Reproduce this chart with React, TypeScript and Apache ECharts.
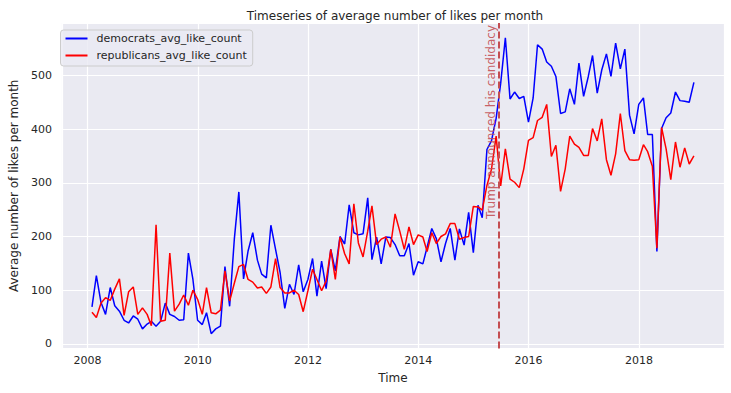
import React, { useEffect, useRef } from "react";
import * as echarts from "echarts";

const startYear = 2008;
const demLikes = [
  69, 127, 77, 55, 105, 71, 61, 44, 39, 52, 46, 28,
  37, 42, 33, 42, 76, 55, 51, 44, 45, 169, 120, 44,
  36, 58, 19, 28, 33, 144, 70, 195, 283, 121, 173, 207,
  156, 130, 123, 221, 176, 133, 66, 111, 92, 147, 97, 120,
  159, 89, 154, 103, 176, 136, 200, 186, 259, 207, 203, 205,
  272, 157, 199, 149, 199, 198, 185, 164, 164, 187, 128, 153,
  149, 180, 215, 196, 153, 187, 215, 156, 214, 184, 245, 170,
  258, 235, 362, 378, 420, 485, 570, 456, 469, 457, 461, 413,
  458, 557, 549, 525, 517, 498, 429, 432, 475, 446, 523, 461,
  498, 537, 467, 510, 540, 498, 560, 512, 549, 426, 391, 446,
  458, 390, 390, 172, 401, 421, 430, 469, 453, 452, 450, 487,
];
const repLikes = [
  59, 49, 76, 86, 81, 102, 121, 53, 97, 106, 55, 67,
  55, 34, 222, 42, 44, 169, 61, 74, 91, 72, 100, 83,
  55, 105, 58, 56, 63, 136, 80, 113, 144, 148, 120, 115,
  104, 106, 94, 106, 159, 105, 95, 95, 100, 92, 60, 99,
  139, 120, 99, 117, 176, 120, 199, 168, 149, 261, 188, 162,
  210, 257, 185, 195, 199, 180, 242, 210, 176, 218, 185, 203,
  199, 172, 207, 187, 200, 205, 224, 224, 195, 198, 200, 256,
  255, 249, 295, 325, 387, 294, 363, 307, 301, 291, 326, 379,
  384, 416, 422, 446, 349, 370, 284, 326, 387, 372, 366, 351,
  351, 401, 378, 419, 343, 314, 354, 429, 360, 343, 342, 343,
  371, 358, 331, 178, 403, 363, 306, 376, 329, 365, 335, 350,
];
const seriesNames = ["democrats_avg_like_count", "republicans_avg_like_count"];
const eventDate = "2015-06-16";
const eventText = "Trump announced his candidacy";
const titleText = "Timeseries of average number of likes per month";

function decimalYear(t: number): number {
  const d = new Date(t);
  const y = d.getUTCFullYear();
  const a = Date.UTC(y, 0, 1);
  const b = Date.UTC(y + 1, 0, 1);
  return y + (t - a) / (b - a);
}
// month-end dates (pandas resample 'M')
const monthX = demLikes.map((_, i) => decimalYear(Date.UTC(startYear, i + 1, 0)));
const eventX = decimalYear(Date.parse(eventDate + "T00:00:00Z"));

export default function App() {
  const ref = useRef<HTMLDivElement>(null);
  useEffect(() => {
    if (!ref.current) return;
    const chart = echarts.init(ref.current, undefined, { renderer: "svg" });
    const xMinD = monthX[0], xMaxD = monthX[monthX.length - 1];
    const xs = (xMaxD - xMinD) * 0.05;
    const all = demLikes.concat(repLikes);
    const yMinD = Math.min(...all), yMaxD = Math.max(...all);
    const ys = (yMaxD - yMinD) * 0.05;
    const font = "DejaVu Sans";
    const txt = "#262626";
    chart.setOption({
      animation: false,
      backgroundColor: "#ffffff",
      textStyle: { fontFamily: font },
      title: {
        text: titleText,
        left: 390,
        textAlign: "center",
        top: 5,
        textStyle: { fontSize: 12, fontWeight: "normal", color: txt, fontFamily: font },
      },
      grid: {
        left: 56, right: 7, top: 23, bottom: 44.5,
        show: true, backgroundColor: "#EAEAF2", borderWidth: 0,
      },
      legend: {
        left: 60.5, top: 30, orient: "vertical",
        padding: [3, 6, 5, 4],
        itemWidth: 22, itemHeight: 10, itemGap: 6,
        backgroundColor: "rgba(234,234,242,0.8)",
        borderColor: "#cccccc", borderWidth: 1, borderRadius: 3,
        itemStyle: { opacity: 0 },
        lineStyle: { width: 2 },
        textStyle: { fontSize: 11, color: txt, fontFamily: font, padding: [0, 0, 0, 4] },
        data: seriesNames,
      },
      xAxis: {
        type: "value",
        min: xMinD - xs,
        max: xMaxD + xs,
        name: "Time",
        nameLocation: "middle",
        nameGap: 23,
        nameTextStyle: { fontSize: 12, color: txt, fontFamily: font },
        axisLine: { show: false },
        axisTick: { show: false },
        axisLabel: {
          fontSize: 11, color: txt, margin: 6, fontFamily: font,
          showMinLabel: false, showMaxLabel: false,
          formatter: (v: number) => String(Math.round(v)),
        },
        splitLine: { show: true, lineStyle: { color: "#ffffff", width: 1.2 } },
      },
      yAxis: {
        type: "value",
        min: yMinD - ys,
        max: yMaxD + ys,
        name: "Average number of likes per month",
        nameLocation: "middle",
        nameGap: 37,
        nameTextStyle: { fontSize: 12, color: txt, fontFamily: font },
        axisLine: { show: false },
        axisTick: { show: false },
        axisLabel: {
          fontSize: 11, color: txt, margin: 10, fontFamily: font,
          showMinLabel: false, showMaxLabel: false,
          formatter: (v: number) => String(Math.round(v)),
        },
        splitLine: { show: true, lineStyle: { color: "#ffffff", width: 1.2 } },
      },
      series: [
        {
          name: seriesNames[0],
          type: "line",
          symbol: "none",
          data: demLikes.map((v, i) => [monthX[i], v]),
          lineStyle: { color: "#0000ff", width: 1.5 },
          itemStyle: { color: "#0000ff" },
          z: 2,
        },
        {
          name: seriesNames[1],
          type: "line",
          symbol: "none",
          data: repLikes.map((v, i) => [monthX[i], v]),
          lineStyle: { color: "#ff0000", width: 1.5 },
          itemStyle: { color: "#ff0000" },
          z: 3,
          markLine: {
            silent: true,
            symbol: "none",
            z: 5,
            lineStyle: { color: "#C44E52", type: [7, 3], width: 2 },
            label: {
              show: true,
              position: "insideEndTop",
              formatter: eventText,
              color: "rgba(196,78,82,0.9)",
              fontSize: 12,
              fontFamily: font,
              distance: [2, 1],
            },
            data: [{ xAxis: eventX }],
          },
        },
      ],
    });
    return () => chart.dispose();
  }, []);
  return (
    <div
      ref={ref}
      style={{ position: "fixed", left: 0, top: 0, width: 731, height: 393 }}
    />
  );
}
